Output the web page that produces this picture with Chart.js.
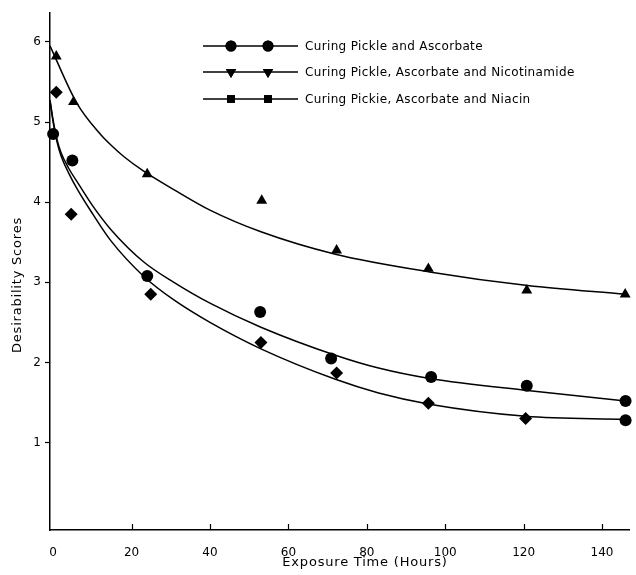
<!DOCTYPE html>
<html><head><meta charset="utf-8">
<script src="https://cdn.jsdelivr.net/npm/chart.js@4.4.1/dist/chart.umd.min.js"></script>
<style>html,body{margin:0;padding:0;background:#fff}#wrap{width:636px;height:575px}</style>
</head><body><div id="wrap"><canvas id="c" width="636" height="575"></canvas></div>
<script>
// ---- data ----
const xTicks = [0, 20, 40, 60, 80, 100, 120, 140];
const yTicks = [1, 2, 3, 4, 5, 6];
const seriesNames = [
  "Curing Pickle and Ascorbate",
  "Curing Pickle, Ascorbate and Nicotinamide",
  "Curing Pickie, Ascorbate and Niacin"
];
const xTitle = "Exposure Time (Hours)";
const yTitle = "Desirability Scores";

// observed points
const hoursAsc = [0, 4.9, 24, 52.8, 70.9, 96.4, 120.8, 146];
const scoreAsc = [4.85, 4.52, 3.08, 2.63, 2.05, 1.82, 1.71, 1.52];
const hoursNic = [0.8, 5.2, 24, 53.2, 72.3, 95.7, 120.8, 145.9];
const scoreNic = [5.82, 5.25, 4.35, 4.02, 3.40, 3.17, 2.90, 2.85];
const hoursNia = [0.8, 4.6, 24.9, 53, 72.3, 95.7, 120.5, 146];
const scoreNia = [5.37, 3.85, 2.85, 2.25, 1.87, 1.49, 1.30, 1.28];

// fitted curves
const fitHoursAsc = [-0.8, 0, 1, 2, 4, 6.3, 10, 14.7, 23.2, 30.8, 40, 53, 72, 83, 96, 121, 146];
const fitScoreAsc = [5.27, 5.02, 4.78, 4.62, 4.42, 4.24, 3.96, 3.66, 3.25, 3.00, 2.74, 2.44, 2.09, 1.93, 1.80, 1.65, 1.52];
const fitHoursNic = [-0.8, 6, 12, 15, 18, 23, 31, 40, 53, 72, 96, 121, 146];
const fitScoreNic = [5.95, 5.24, 4.85, 4.70, 4.57, 4.39, 4.15, 3.90, 3.63, 3.35, 3.13, 2.96, 2.85];
const fitHoursNia = [-0.8, 0, 1, 2, 4, 6.3, 10, 14.7, 23.2, 30.8, 40, 53, 72, 83, 96, 120.5, 146];
const fitScoreNia = [5.27, 5.00, 4.75, 4.58, 4.36, 4.15, 3.86, 3.52, 3.07, 2.78, 2.50, 2.17, 1.79, 1.62, 1.48, 1.33, 1.29];

const pts = (xs, ys) => xs.map((x, i) => ({x: x, y: ys[i]}));
const FONT = "'DejaVu Sans', sans-serif";

const curve = (xs, ys) => ({
  type: 'line', data: pts(xs, ys), borderColor: '#000', borderWidth: 1.5,
  pointRadius: 0, fill: false, cubicInterpolationMode: 'monotone', clip: false
});
const marks = (xs, ys, style, r, extra) => Object.assign({
  type: 'scatter', data: pts(xs, ys), showLine: false, pointStyle: style,
  pointRadius: r, pointBackgroundColor: '#000', pointBorderColor: '#000',
  pointBorderWidth: 0, clip: false
}, extra || {});

const legendStyles = [
  {pointStyle: 'circle', radius: 5.5, rotation: 0},
  {pointStyle: 'triangle', radius: 6, rotation: 180},
  {pointStyle: 'rect', radius: 5.5, rotation: 0}
];

const decor = {
  id: 'decor',
  afterDraw(chart) {
    const ctx = chart.ctx, xs = chart.scales.x, a = chart.chartArea;
    ctx.save();
    ctx.strokeStyle = '#000'; ctx.fillStyle = '#000'; ctx.lineWidth = 1.2;
    // inward x ticks
    xTicks.forEach(v => {
      if (v === 0) return;
      const px = Math.round(xs.getPixelForValue(v)) + 0.5;
      ctx.beginPath(); ctx.moveTo(px, a.bottom); ctx.lineTo(px, a.bottom - 6); ctx.stroke();
    });
    // axis titles
    ctx.font = "13px " + FONT;
    ctx.letterSpacing = "0.8px";
    ctx.textAlign = 'center'; ctx.textBaseline = 'middle';
    ctx.fillText(xTitle, 365, 563);
    ctx.save(); ctx.translate(18, 285); ctx.rotate(-Math.PI / 2);
    ctx.fillText(yTitle, 0, 0); ctx.restore();
    // legend
    const rows = [46, 72, 99];
    ctx.lineWidth = 1.5;
    ctx.letterSpacing = "0.35px";
    seriesNames.forEach((name, i) => {
      const y = rows[i];
      ctx.beginPath(); ctx.moveTo(203, y); ctx.lineTo(298, y); ctx.stroke();
      [231, 268].forEach(mx => {
        Chart.helpers.drawPoint(ctx, Object.assign({borderWidth: 0}, legendStyles[i]), mx, y);
        ctx.fill();
      });
      ctx.font = "12px " + FONT; ctx.textAlign = 'left'; ctx.textBaseline = 'middle';
      ctx.fillText(name, 305, y + 1);
    });
    ctx.restore();
  }
};

new Chart(document.getElementById('c'), {
  data: {
    datasets: [
      curve(fitHoursAsc, fitScoreAsc),
      curve(fitHoursNic, fitScoreNic),
      curve(fitHoursNia, fitScoreNia),
      marks(hoursAsc, scoreAsc, 'circle', 6),
      marks(hoursNic, scoreNic, 'triangle', 6.3),
      marks(hoursNia, scoreNia, ['rectRot','rectRot','rectRot','rectRot','rectRot','rectRot','rectRot','circle'], 6.5,
            {pointRadius: [6.5,6.5,6.5,6.5,6.5,6.5,6.5,6]})
    ]
  },
  options: {
    responsive: false, animation: false, devicePixelRatio: 1,
    layout: {padding: {top: 13, right: 4, left: 0, bottom: 0}},
    plugins: {legend: {display: false}, tooltip: {enabled: false}, title: {display: false}},
    scales: {
      x: {
        type: 'linear', min: -0.8, max: 147,
        afterBuildTicks: s => { s.ticks = xTicks.map(v => ({value: v})); },
        afterFit: s => { s.height = 45; },
        grid: {display: false},
        border: {display: true, color: '#000', width: 1.5},
        ticks: {color: '#000', font: {family: FONT, size: 12}, padding: 8, maxRotation: 0, autoSkip: false}
      },
      y: {
        type: 'linear', min: -0.09, max: 6.36,
        afterBuildTicks: s => { s.ticks = yTicks.map(v => ({value: v})); },
        afterFit: s => { s.width = 50; },
        grid: {display: true, drawOnChartArea: false, drawTicks: true, tickLength: 5, tickColor: '#000', tickWidth: 1.2},
        border: {display: true, color: '#000', width: 1.5},
        ticks: {color: '#000', font: {family: FONT, size: 12}, padding: 4}
      }
    }
  },
  plugins: [decor]
});
</script>
</body></html>
